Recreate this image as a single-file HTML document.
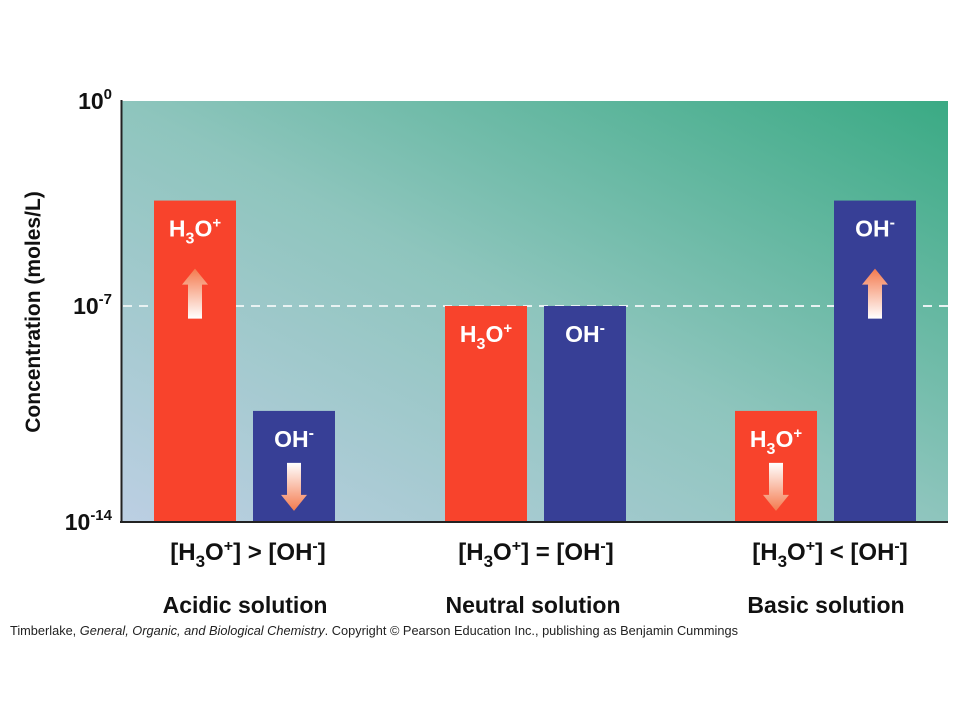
<!DOCTYPE html>
<html><head><meta charset="utf-8"><style>
body{margin:0;background:#fff;width:960px;height:720px;overflow:hidden;font-family:"Liberation Sans",Arial,sans-serif;}
</style></head><body>
<svg id="chart" width="960" height="720" xmlns="http://www.w3.org/2000/svg" font-family="Liberation Sans, Arial, sans-serif">
<defs>
<linearGradient id="bg" x1="0" y1="1" x2="1" y2="0">
<stop offset="0" stop-color="#bccfe3"/><stop offset="0.5" stop-color="#8ec5bd"/><stop offset="1" stop-color="#3aaa84"/>
</linearGradient>
<linearGradient id="arUp" x1="0" y1="1" x2="0" y2="0"><stop offset="0" stop-color="#ffffff"/><stop offset="1" stop-color="#f47a4e"/></linearGradient>
<linearGradient id="arDn" x1="0" y1="0" x2="0" y2="1"><stop offset="0" stop-color="#ffffff"/><stop offset="1" stop-color="#f47a4e"/></linearGradient>
</defs>
<rect x="121" y="101" width="827" height="421" fill="url(#bg)"/>
<g id="marks"></g>
<line x1="121.5" y1="100" x2="121.5" y2="523" stroke="#222" stroke-width="2"/>
<line x1="120" y1="522" x2="948" y2="522" stroke="#222" stroke-width="2"/>
<text transform="translate(40,312) rotate(-90)" text-anchor="middle" font-size="21" font-weight="bold" fill="#111">Concentration (moles/L)</text>
<g id="ticks" font-weight="bold" fill="#111"></g>
<g font-weight="bold" fill="#111" text-anchor="middle">
<text x="248" y="560" font-size="24">[H<tspan font-size="17" dy="7">3</tspan><tspan dy="-7">O</tspan><tspan font-size="16" dy="-9">+</tspan><tspan dy="9">] &gt; [OH</tspan><tspan font-size="16" dy="-9">-</tspan><tspan dy="9">]</tspan></text>
<text x="536" y="560" font-size="24">[H<tspan font-size="17" dy="7">3</tspan><tspan dy="-7">O</tspan><tspan font-size="16" dy="-9">+</tspan><tspan dy="9">] = [OH</tspan><tspan font-size="16" dy="-9">-</tspan><tspan dy="9">]</tspan></text>
<text x="830" y="560" font-size="24">[H<tspan font-size="17" dy="7">3</tspan><tspan dy="-7">O</tspan><tspan font-size="16" dy="-9">+</tspan><tspan dy="9">] &lt; [OH</tspan><tspan font-size="16" dy="-9">-</tspan><tspan dy="9">]</tspan></text>
<text x="245" y="613" font-size="23">Acidic solution</text>
<text x="533" y="613" font-size="23">Neutral solution</text>
<text x="826" y="613" font-size="23">Basic solution</text>
</g>
<text x="10" y="635" font-size="12.5" fill="#222" textLength="728" lengthAdjust="spacingAndGlyphs">Timberlake, <tspan font-style="italic">General, Organic, and Biological Chemistry</tspan>.  Copyright © Pearson Education Inc., publishing as Benjamin Cummings</text>
</svg>
<script>
const tickExps = [0, -7, -14];
const tickPix = [101, 306, 522];
const categories = ["Acidic", "Neutral", "Basic"];
const h3oValues = [-3.4, -7, -10.4];
const ohValues = [-10.4, -7, -3.4];
const h3oArrows = ["up", "none", "down"];
const ohArrows = ["down", "none", "up"];
const groupLeft = [154, 445, 735];
const barW = 82, barGap = 17;

function y(v){
  if (v >= tickExps[1]) return tickPix[0] + (v - tickExps[0])/(tickExps[1]-tickExps[0])*(tickPix[1]-tickPix[0]);
  return tickPix[1] + (v - tickExps[1])/(tickExps[2]-tickExps[1])*(tickPix[2]-tickPix[1]);
}
const NS = "http://www.w3.org/2000/svg";
const marks = document.getElementById("marks");
const ticks = document.getElementById("ticks");
function mk(tag, attrs, parent){
  const e = document.createElementNS(NS, tag);
  for (const k in attrs) e.setAttribute(k, attrs[k]);
  parent.appendChild(e); return e;
}
tickExps.forEach(function(t){
  const ty = y(t);
  const tx = mk("text", {x: 112, y: ty + 8, "text-anchor": "end", "font-size": 23}, ticks);
  
  
  tx.innerHTML = '10<tspan font-size="15" dy="-10">' + t + '</tspan>';
});
const dash = mk("line", {x1: 123, x2: 948, y1: y(-7), y2: y(-7), stroke: "#e8f2f2", "stroke-width": 2, "stroke-dasharray": "9 7"}, marks);



function arrow(cx, dir, yTop, yBot){
  const p = dir === "up"
    ? `M${cx-7},${yBot} L${cx-7},${yTop+16} L${cx-13},${yTop+16} L${cx},${yTop} L${cx+13},${yTop+16} L${cx+7},${yTop+16} L${cx+7},${yBot} Z`
    : `M${cx-7},${yTop} L${cx-7},${yBot-16} L${cx-13},${yBot-16} L${cx},${yBot} L${cx+13},${yBot-16} L${cx+7},${yBot-16} L${cx+7},${yTop} Z`;
  const a = mk("path", {d: p, fill: dir === "up" ? "url(#arUp)" : "url(#arDn)"}, marks);
  
  
}
function bar(x, v, color, kind, arr){
  const top = y(v), base = y(-14);
  const r = mk("rect", {x: x, y: top, width: barW, height: base - top, fill: color}, marks);
  
  
  const cx = x + barW/2;
  const t = mk("text", {x: cx, y: top + 36, "text-anchor": "middle", "font-size": 23, "font-weight": "bold", fill: "#fff"}, marks);
  
  
  t.innerHTML = kind === "h3o"
    ? 'H<tspan font-size="16" dy="7">3</tspan><tspan dy="-7">O</tspan><tspan font-size="15" dy="-9">+</tspan>'
    : 'OH<tspan font-size="16" dy="-9">-</tspan>';
  if (arr === "up") arrow(cx, "up", top + 68, top + 118);
  if (arr === "down") arrow(cx, "down", top + 52, top + 100);
}
categories.forEach(function(c, i){
  bar(groupLeft[i], h3oValues[i], "#f8432c", "h3o", h3oArrows[i]);
  bar(groupLeft[i] + barW + barGap, ohValues[i], "#373f96", "oh", ohArrows[i]);
});
</script>
</body></html>
